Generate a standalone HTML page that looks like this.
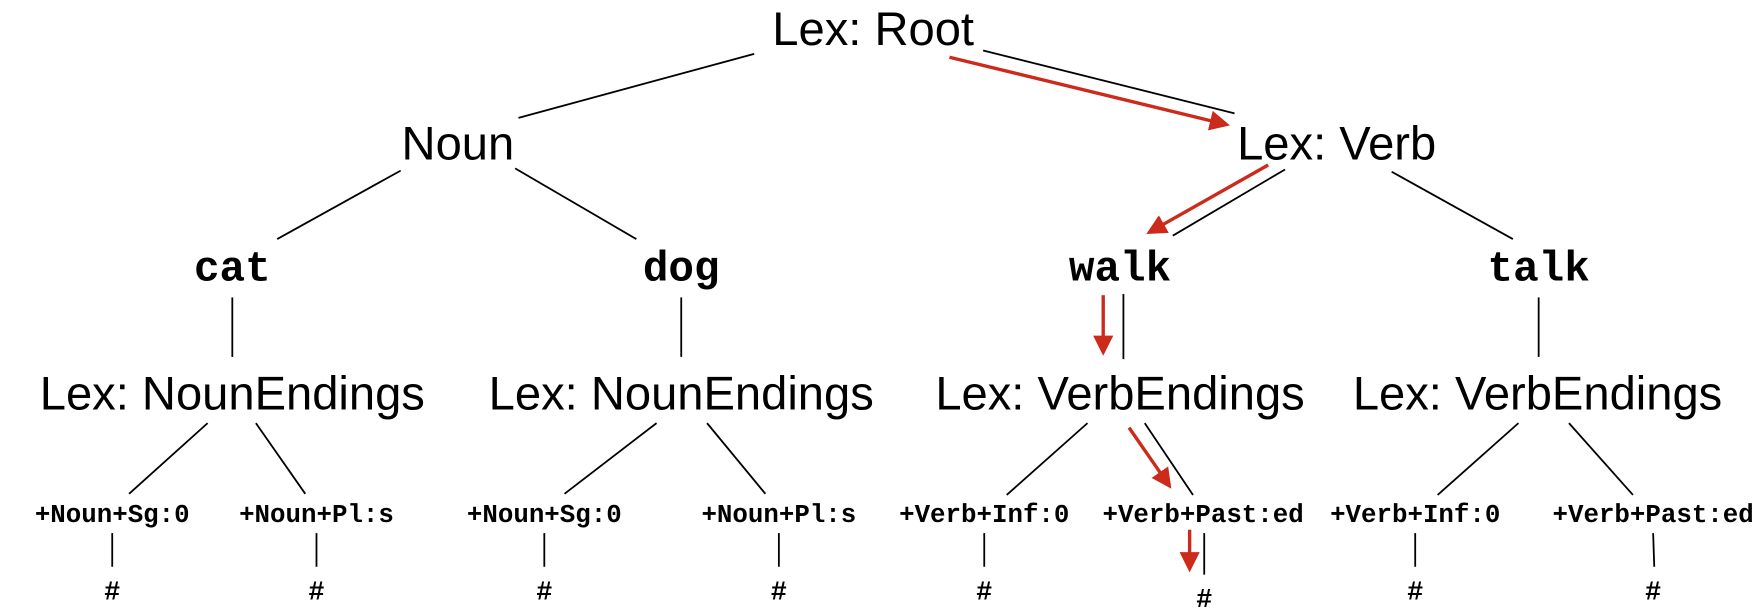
<!DOCTYPE html>
<html><head><meta charset="utf-8"><style>html,body{margin:0;padding:0;background:#fff}svg{display:block}</style></head>
<body>
<svg width="1762" height="611" viewBox="0 0 1570 544.4" xmlns="http://www.w3.org/2000/svg">
<defs>
<marker id="ah" markerWidth="6" markerHeight="6" refX="5" refY="3" orient="auto" markerUnits="strokeWidth">
<path d="M0,0 L6,3 L0,6 z" fill="#cc2a1a"/></marker>
</defs>
<g font-family="'Liberation Sans',Arial,sans-serif" font-size="42" text-anchor="middle" fill="#000">
<text x="778" y="40">Lex: Root</text>
<text x="408" y="142">Noun</text>
<text x="1191" y="142">Lex: Verb</text>
<text x="207" y="365">Lex: NounEndings</text>
<text x="607" y="365">Lex: NounEndings</text>
<text x="998" y="365">Lex: VerbEndings</text>
<text x="1370" y="365">Lex: VerbEndings</text>
</g>
<g font-family="'Liberation Mono','Courier New',monospace" font-weight="bold" font-size="38" text-anchor="middle" fill="#000">
<text x="207" y="250">cat</text>
<text x="607" y="250">dog</text>
<text x="998" y="250">walk</text>
<text x="1371" y="250">talk</text>
</g>
<g font-family="'Liberation Mono','Courier New',monospace" font-weight="bold" font-size="23" text-anchor="middle" fill="#000">
<text x="100" y="465">+Noun+Sg:0</text>
<text x="282" y="465">+Noun+Pl:s</text>
<text x="485" y="465">+Noun+Sg:0</text>
<text x="694" y="465">+Noun+Pl:s</text>
<text x="877" y="465">+Verb+Inf:0</text>
<text x="1072" y="465">+Verb+Past:ed</text>
<text x="1261" y="465">+Verb+Inf:0</text>
<text x="1473" y="465">+Verb+Past:ed</text>
</g>
<g font-family="'Liberation Mono','Courier New',monospace" font-weight="bold" font-size="24" text-anchor="middle" fill="#000">
<text x="100" y="534">#</text>
<text x="282" y="534">#</text>
<text x="485" y="534">#</text>
<text x="694" y="534">#</text>
<text x="877" y="534">#</text>
<text x="1073" y="541">#</text>
<text x="1261" y="534">#</text>
<text x="1473" y="534">#</text>
</g>
<g stroke="#000" stroke-width="1.6" fill="none">
<line x1="672" y1="48" x2="462" y2="105"/>
<line x1="876" y1="45" x2="1100" y2="101"/>
<line x1="357" y1="152" x2="247" y2="213"/>
<line x1="459" y1="150" x2="567" y2="213"/>
<line x1="1145" y1="151" x2="1045" y2="210"/>
<line x1="1240" y1="153" x2="1348" y2="213"/>
<line x1="207" y1="265" x2="207" y2="318"/>
<line x1="607" y1="265" x2="607" y2="318"/>
<line x1="1001" y1="262" x2="1001" y2="320"/>
<line x1="1371" y1="265" x2="1371" y2="318"/>
<line x1="185" y1="377" x2="115" y2="440"/>
<line x1="228" y1="377" x2="272" y2="440"/>
<line x1="585" y1="377" x2="503" y2="440"/>
<line x1="630" y1="377" x2="682" y2="440"/>
<line x1="969" y1="377" x2="897" y2="441"/>
<line x1="1020" y1="377" x2="1063" y2="441"/>
<line x1="1353" y1="377" x2="1281" y2="441"/>
<line x1="1398" y1="377" x2="1455" y2="441"/>
<line x1="100" y1="475" x2="100" y2="505"/>
<line x1="282" y1="475" x2="282" y2="505"/>
<line x1="485" y1="475" x2="485" y2="505"/>
<line x1="694" y1="475" x2="694" y2="505"/>
<line x1="877" y1="475" x2="877" y2="505"/>
<line x1="1073" y1="475" x2="1073" y2="512"/>
<line x1="1261" y1="475" x2="1261" y2="505"/>
<line x1="1473" y1="475" x2="1474" y2="505"/>
</g>
<g stroke="#cc2a1a" stroke-width="3" fill="none" marker-end="url(#ah)">
<line x1="846" y1="51" x2="1093" y2="111"/>
<line x1="1130" y1="147" x2="1024" y2="207"/>
<line x1="983" y1="263" x2="983" y2="314"/>
<line x1="1006" y1="381" x2="1042" y2="433"/>
<line x1="1060" y1="472" x2="1060" y2="507"/>
</g>
</svg>
</body></html>
